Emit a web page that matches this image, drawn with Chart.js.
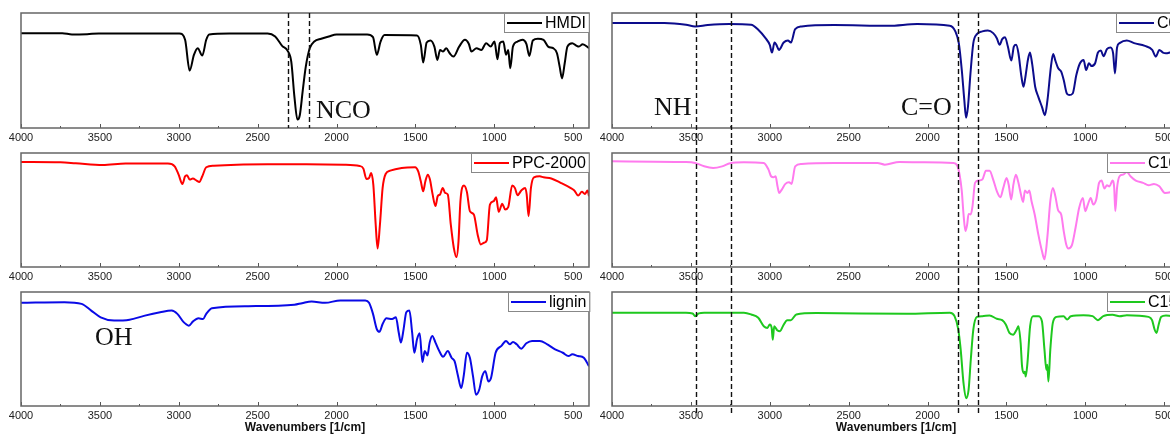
<!DOCTYPE html>
<html>
<head>
<meta charset="utf-8">
<script src="https://cdn.jsdelivr.net/npm/chart.js@4.4.0/dist/chart.umd.min.js"></script>
<style>
  html, body { margin: 0; padding: 0; background: #fff; overflow: hidden; }
  #wrap { position: relative; width: 1170px; height: 435px; overflow: hidden; }
  canvas { position: absolute; }
</style>
</head>
<body>
<div id="wrap">
  <canvas id="p1" width="600" height="146" style="left:0;top:0"></canvas>
  <canvas id="p2" width="600" height="146" style="left:0;top:140px"></canvas>
  <canvas id="p3" width="600" height="155" style="left:0;top:280px"></canvas>
  <canvas id="p4" width="620" height="146" style="left:580px;top:0"></canvas>
  <canvas id="p5" width="620" height="146" style="left:580px;top:140px"></canvas>
  <canvas id="p6" width="620" height="155" style="left:580px;top:280px"></canvas>
</div>
<script>
// x axis: wavenumber in 1/cm, plotted high -> low
const majorTicks = [4000, 3500, 3000, 2500, 2000, 1500, 1000, 500];
const minorTicks = [3750, 3250, 2750, 2250, 1750, 1250, 750];

// spectra: [wavenumber, transmittance %]
const hmdi = [[4000,82.5],[3738,82.5],[3677,81.3],[3580,81.6],[3507,82.2],[2996,82.2],[2960,76.7],[2931,49.9],[2904,63.6],[2880,69.4],
  [2851,63.0],[2826,76.7],[2807,81.3],[2680,82.2],[2437,82.2],[2389,79.6],[2345,71.4],[2311,67.3],[2287,57.7],[2267,27.1],
  [2248,7.3],[2233,11.1],[2214,32.9],[2195,53.4],[2170,69.4],[2141,75.2],[2097,77.6],[2049,79.6],[2000,81.3],[1806,81.3],
  [1769,79.0],[1745,63.6],[1721,75.2],[1696,80.8],[1490,80.5],[1466,72.3],[1451,56.9],[1429,74.3],[1405,76.1],[1380,70.8],
  [1361,59.2],[1344,67.9],[1325,66.5],[1305,69.4],[1283,65.0],[1259,62.1],[1223,70.8],[1186,76.7],[1162,73.2],[1145,66.5],
  [1113,69.4],[1082,67.9],[1052,73.8],[1023,70.8],[999,75.2],[980,59.8],[965,73.8],[943,75.2],[926,63.6],[912,67.9],
  [899,51.9],[882,70.8],[853,75.2],[822,76.7],[797,73.2],[778,62.7],[756,76.1],[724,77.6],[688,76.7],[659,70.8],
  [627,69.4],[603,65.0],[586,53.4],[571,43.1],[554,56.3],[537,70.8],[506,73.8],[481,71.7],[464,70.8],[440,72.9],[400,69.4]];

const ppc2000 = [[4000,92.1],[3750,91.8],[3653,91.0],[3482,89.5],[3337,90.7],[3069,90.7],[3026,88.3],[3001,81.0],[2977,72.9],[2960,79.6],
  [2948,80.5],[2931,76.7],[2911,77.6],[2887,75.8],[2870,74.6],[2851,79.6],[2826,87.5],[2778,88.9],[2632,89.8],[2437,90.1],
  [2195,90.1],[1951,89.8],[1854,88.6],[1830,86.3],[1811,77.3],[1794,78.1],[1781,82.5],[1767,72.3],[1752,37.3],[1740,16.3],
  [1725,37.3],[1708,69.4],[1689,81.6],[1660,84.5],[1587,86.9],[1502,87.5],[1483,84.0],[1466,75.2],[1451,66.5],[1437,75.2],
  [1422,81.0],[1408,76.7],[1393,65.0],[1373,53.4],[1359,62.1],[1344,63.6],[1327,69.4],[1312,65.0],[1295,63.6],[1276,37.3],
  [1257,16.9],[1240,8.7],[1227,22.7],[1215,57.7],[1193,71.4],[1174,65.9],[1155,49.0],[1130,46.1],[1106,28.6],[1086,19.8],
  [1065,21.3],[1048,23.3],[1028,54.8],[1004,57.7],[989,61.2],[972,48.4],[950,55.4],[931,50.4],[912,52.5],[887,71.4],
  [870,69.4],[853,63.0],[829,67.1],[805,69.4],[795,63.6],[783,44.6],[768,69.4],[749,78.7],[712,79.6],[688,78.7],
  [639,77.6],[579,73.8],[518,69.4],[493,67.1],[469,62.7],[445,65.9],[426,64.1],[409,67.1],[400,62.1]];

const lignin = [[4000,90.5],[3725,91.1],[3616,89.6],[3555,83.7],[3495,77.8],[3410,74.9],[3312,75.7],[3215,79.3],[3118,82.2],[3045,83.7],
  [3009,80.8],[2972,74.0],[2955,71.9],[2936,70.4],[2911,74.0],[2875,76.9],[2846,76.3],[2826,80.8],[2790,85.8],[2559,87.6],
  [2267,88.8],[2219,90.2],[2158,91.7],[2073,90.5],[1976,92.6],[1818,92.6],[1794,90.5],[1769,80.8],[1745,67.5],[1728,65.1],
  [1708,71.9],[1684,76.9],[1648,76.3],[1624,77.8],[1606,64.5],[1592,55.6],[1575,67.5],[1558,82.2],[1538,83.7],[1521,64.5],
  [1507,46.7],[1490,58.6],[1473,63.9],[1456,38.5],[1441,48.2],[1424,44.4],[1410,55.6],[1393,61.5],[1373,55.6],[1349,48.2],
  [1325,43.2],[1295,48.2],[1271,42.3],[1252,39.3],[1232,27.5],[1210,15.7],[1193,27.5],[1174,46.7],[1155,42.3],[1135,26.0],
  [1116,9.8],[1096,14.2],[1077,26.0],[1057,30.5],[1038,21.6],[1021,24.6],[992,46.7],[955,52.7],[926,57.1],[902,54.1],
  [882,56.2],[858,54.1],[829,50.3],[797,55.0],[761,57.1],[712,57.1],[664,54.1],[615,49.7],[566,46.7],[530,43.8],
  [506,45.3],[469,43.8],[433,42.3],[400,34.9]];

const c0 = [[4000,91.3],[3668,91.3],[3531,89.8],[3473,88.3],[3393,89.5],[3256,90.4],[3118,89.8],[3073,85.4],[3027,78.1],[3000,72.3],
  [2986,65.6],[2970,74.3],[2958,72.3],[2942,67.9],[2912,74.3],[2885,76.1],[2866,74.3],[2839,86.0],[2798,88.3],[2592,89.5],
  [2248,88.9],[2065,90.4],[1859,88.9],[1824,84.0],[1802,73.8],[1783,50.4],[1767,24.2],[1756,9.0],[1744,18.4],[1728,47.5],
  [1710,73.8],[1687,81.6],[1653,84.0],[1618,84.8],[1584,82.5],[1561,78.1],[1543,72.3],[1527,77.3],[1509,79.0],[1491,70.8],
  [1469,58.6],[1453,70.8],[1439,72.3],[1424,65.0],[1405,44.6],[1392,35.9],[1378,46.1],[1364,59.2],[1351,65.6],[1337,55.7],
  [1318,35.9],[1298,27.1],[1275,18.4],[1256,11.1],[1240,24.2],[1218,53.4],[1204,64.4],[1190,58.6],[1172,51.9],[1153,49.0],
  [1137,41.7],[1119,30.6],[1103,28.6],[1080,30.0],[1057,46.1],[1034,56.3],[1011,59.2],[995,50.4],[977,56.3],[961,53.9],
  [938,56.3],[920,65.6],[901,67.3],[885,62.4],[862,68.8],[840,70.0],[824,65.0],[812,47.5],[799,70.0],[783,73.8],
  [737,76.1],[691,73.8],[622,71.4],[576,67.9],[553,62.1],[531,67.9],[508,65.6],[489,65.0],[450,66.0],[400,64.0]];

const c10 = [[4000,92.7],[3531,92.1],[3473,91.3],[3416,88.3],[3359,86.9],[3302,88.3],[3251,91.0],[3164,91.8],[3038,91.3],[3008,85.4],
  [2992,79.6],[2976,78.7],[2963,79.6],[2951,70.8],[2940,65.0],[2924,67.9],[2901,72.9],[2878,74.3],[2862,72.9],[2839,88.3],
  [2798,90.4],[2592,91.3],[2317,91.3],[2271,89.8],[2179,92.1],[2019,91.8],[1836,91.3],[1813,89.2],[1797,81.0],[1783,66.5],
  [1772,46.1],[1760,31.5],[1749,37.3],[1740,46.6],[1726,46.1],[1715,53.4],[1699,73.8],[1676,75.8],[1653,76.7],[1630,84.5],
  [1607,84.5],[1584,76.7],[1561,66.5],[1538,61.2],[1520,69.4],[1499,78.1],[1486,72.3],[1470,59.2],[1456,72.3],[1440,81.0],
  [1424,73.8],[1408,63.6],[1394,57.1],[1383,67.1],[1367,65.0],[1355,67.1],[1341,57.7],[1321,46.1],[1298,28.6],[1275,14.0],
  [1259,6.7],[1241,25.7],[1222,57.7],[1206,69.4],[1190,62.1],[1172,49.6],[1153,46.1],[1137,31.5],[1121,19.8],[1108,16.3],
  [1085,19.2],[1062,34.4],[1039,51.9],[1016,60.6],[1000,49.0],[984,54.8],[966,60.6],[950,54.8],[931,59.2],[913,73.8],
  [897,75.8],[879,68.8],[863,71.7],[847,70.6],[828,75.8],[817,69.4],[810,49.0],[799,69.4],[783,79.6],[760,81.0],
  [737,83.4],[714,79.6],[680,75.8],[634,73.8],[599,71.7],[565,72.9],[531,70.8],[496,65.0],[450,66.0],[400,68.0]];

const c15 = [[4000,81.8],[3531,81.8],[3489,81.2],[3473,78.8],[3450,81.2],[3416,81.8],[3164,81.8],[3118,80.3],[3073,77.4],[3038,70.0],
  [3015,68.5],[3000,71.5],[2988,68.5],[2981,58.2],[2972,70.0],[2953,66.5],[2935,65.6],[2917,70.0],[2889,75.3],[2866,75.3],
  [2832,80.3],[2706,81.5],[2134,80.9],[1859,81.8],[1829,78.8],[1806,67.6],[1790,49.4],[1772,20.0],[1756,6.8],[1740,14.1],
  [1726,40.6],[1710,67.1],[1687,78.2],[1653,78.8],[1607,79.4],[1561,76.5],[1527,75.3],[1504,71.5],[1481,64.1],[1458,62.6],
  [1435,67.1],[1424,70.0],[1410,55.3],[1401,34.7],[1389,28.8],[1383,30.0],[1378,25.9],[1367,37.6],[1350,70.0],[1332,78.8],
  [1298,78.8],[1275,74.4],[1259,49.4],[1247,31.8],[1241,36.2],[1234,21.5],[1222,49.4],[1206,72.9],[1183,78.2],[1138,78.8],
  [1115,75.9],[1092,78.8],[1012,79.7],[954,78.8],[920,75.3],[886,78.8],[828,80.0],[783,78.8],[737,79.7],[599,78.2],
  [577,75.3],[561,67.1],[549,64.1],[535,71.5],[519,78.2],[489,79.4],[450,79.0],[400,79.0]];

// dashed band markers (wavenumbers)
const ncoBand = [2310, 2175];
const nhCoBand = [3465, 3245, 1805, 1680];

Chart.defaults.font.family = '"Liberation Sans", Arial, sans-serif';

const panelPlugin = {
  id: 'panel',
  afterDatasetsDraw(chart, args, o) {
    const { ctx, chartArea: a, scales: { x, y } } = chart;
    ctx.save();

    // inward tick marks on the bottom edge
    ctx.strokeStyle = '#555';
    ctx.lineWidth = 1;
    ctx.beginPath();
    majorTicks.forEach(v => {
      const px = Math.round(x.getPixelForValue(v)) + 0.5;
      ctx.moveTo(px, a.bottom); ctx.lineTo(px, a.bottom - 4);
    });
    minorTicks.forEach(v => {
      const px = Math.round(x.getPixelForValue(v)) + 0.5;
      ctx.moveTo(px, a.bottom); ctx.lineTo(px, a.bottom - 2);
    });
    ctx.stroke();

    // frame
    ctx.strokeStyle = '#666';
    ctx.lineWidth = 1.5;
    ctx.strokeRect(a.left, a.top, a.right - a.left, a.bottom - a.top);

    // dashed markers, running past the frame by the given offsets
    if (o.marks) {
      const top = a.top - (o.above || 0);
      const bottom = a.bottom + (o.below || 0);
      ctx.setLineDash([5, 3]);
      ctx.strokeStyle = '#111';
      ctx.lineWidth = 1.4;
      ctx.beginPath();
      o.marks.forEach(v => {
        const px = Math.round(x.getPixelForValue(v)) + 0.5;
        ctx.moveTo(px, top); ctx.lineTo(px, bottom);
      });
      ctx.stroke();
      ctx.setLineDash([]);
    }

    // group labels
    ctx.font = '26px "Liberation Serif", "Times New Roman", serif';
    ctx.fillStyle = '#111';
    ctx.textBaseline = 'alphabetic';
    ctx.textAlign = 'left';
    (o.notes || []).forEach(n => {
      ctx.fillText(n.text, x.getPixelForValue(n.wn), y.getPixelForValue(n.t));
    });

    // legend box, top right
    const ds = chart.data.datasets[0];
    ctx.font = '16px "Liberation Sans", Arial, sans-serif';
    const tw = ctx.measureText(ds.label).width;
    const w = 3 + 35 + 3 + tw + 3, h = 19;
    const lx = Math.round(a.right - w), ly = Math.round(a.top);
    ctx.fillStyle = '#fff';
    ctx.fillRect(lx, ly, w, h);
    ctx.strokeStyle = '#888';
    ctx.lineWidth = 1;
    ctx.strokeRect(lx + 0.5, ly + 0.5, w, h);
    ctx.strokeStyle = ds.borderColor;
    ctx.lineWidth = 2;
    ctx.beginPath();
    ctx.moveTo(lx + 3, ly + h / 2 + 0.5); ctx.lineTo(lx + 38, ly + h / 2 + 0.5);
    ctx.stroke();
    ctx.fillStyle = '#000';
    ctx.textBaseline = 'middle';
    ctx.fillText(ds.label, lx + 41, ly + h / 2 + 1);

    ctx.restore();
  }
};

function makePanel(id, label, points, color, cfg) {
  return new Chart(document.getElementById(id), {
    type: 'line',
    data: {
      datasets: [{
        label: label,
        data: points.map(([wn, t]) => ({ x: wn, y: t })),
        borderColor: color,
        borderWidth: 2,
        pointRadius: 0,
        cubicInterpolationMode: 'monotone',
        fill: false
      }]
    },
    options: {
      responsive: false,
      animation: false,
      devicePixelRatio: 1,
      layout: { padding: cfg.padding },
      plugins: {
        legend: { display: false },
        tooltip: { enabled: false },
        panel: cfg.panel || {}
      },
      scales: {
        x: {
          type: 'linear',
          reverse: true,
          min: 400,
          max: 4000,
          afterBuildTicks: s => { s.ticks = majorTicks.map(v => ({ value: v })); },
          afterFit: s => { s.height = cfg.axisH; s.paddingLeft = 0; s.paddingRight = 0; },
          grid: { display: false, drawTicks: false },
          border: { display: false },
          ticks: {
            autoSkip: false, maxRotation: 0, padding: 3,
            color: '#222', font: { size: 11 },
            callback: v => String(v)
          },
          title: {
            display: !!cfg.title,
            text: 'Wavenumbers [1/cm]',
            color: '#111',
            font: { size: 12, weight: 'bold' },
            padding: 0
          }
        },
        y: { display: false, min: 0, max: 100 }
      }
    },
    plugins: [panelPlugin]
  });
}

const leftPad = { left: 21, right: 11 };
const rightPad = { left: 32, right: 20 };

makePanel('p1', 'HMDI', hmdi, '#000000', {
  padding: { ...leftPad, top: 13, bottom: 0 }, axisH: 18,
  panel: { marks: ncoBand, notes: [{ text: 'NCO', wn: 2131, t: 9 }] }
});
makePanel('p2', 'PPC-2000', ppc2000, '#ff0000', {
  padding: { ...leftPad, top: 13, bottom: 0 }, axisH: 19
});
makePanel('p3', 'lignin', lignin, '#0a0ae6', {
  padding: { ...leftPad, top: 12, bottom: 0 }, axisH: 29, title: true,
  panel: { notes: [{ text: 'OH', wn: 3531, t: 53.5 }] }
});
makePanel('p4', 'C0', c0, '#0c0c8c', {
  padding: { ...rightPad, top: 13, bottom: 0 }, axisH: 18,
  panel: {
    marks: nhCoBand, above: 0, below: 12,
    notes: [{ text: 'NH', wn: 3734, t: 11 }, { text: 'C=O', wn: 2169, t: 11 }]
  }
});
makePanel('p5', 'C10', c10, '#ff7aee', {
  padding: { ...rightPad, top: 13, bottom: 0 }, axisH: 19,
  panel: { marks: nhCoBand, above: 13, below: 13 }
});
makePanel('p6', 'C15', c15, '#1ec81e', {
  padding: { ...rightPad, top: 12, bottom: 0 }, axisH: 29, title: true,
  panel: { marks: nhCoBand, above: 12, below: 8 }
});
</script>
</body>
</html>
